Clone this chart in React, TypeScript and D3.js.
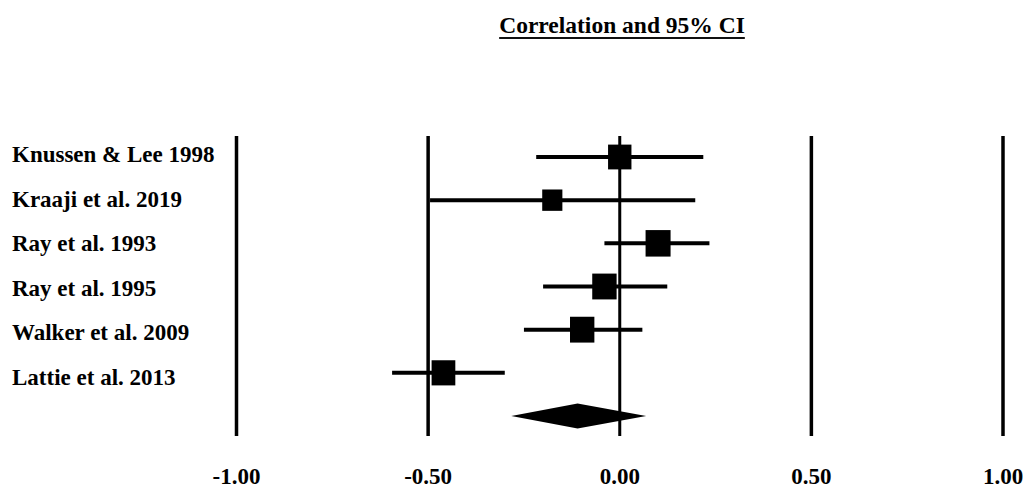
import React, { useEffect, useRef } from "react";
import * as d3 from "d3";

const studies = [
  "Knussen & Lee 1998",
  "Kraaji et al. 2019",
  "Ray et al. 1993",
  "Ray et al. 1995",
  "Walker et al. 2009",
  "Lattie et al. 2013",
];
const estimates = [0.0, -0.176, 0.1, -0.04, -0.098, -0.46];
const lower = [-0.218, -0.495, -0.04, -0.2, -0.25, -0.594];
const upper = [0.218, 0.197, 0.234, 0.124, 0.059, -0.3];
const weights = [17.5, 13, 20, 19, 19, 18];
const pooled = { est: -0.11, lo: -0.283, hi: 0.069 };
const ticks = [-1, -0.5, 0, 0.5, 1];
const tickLabels = ["-1.00", "-0.50", "0.00", "0.50", "1.00"];

const W = 1027;
const H = 492;

const App = () => {
  const svgRef = useRef<SVGSVGElement>(null);

  useEffect(() => {
    const svg = d3.select(svgRef.current);
    svg.selectAll("*").remove();
    const font = "Liberation Serif, Times New Roman, Times, serif";

    const x = d3.scaleLinear().domain([-1, 1]).range([236.5, 1003]);
    // markers and labels sit on slightly different bands in the original
    const yRow = d3.scalePoint<number>().domain(d3.range(studies.length + 1)).range([157, 416]);
    const yLabel = d3.scalePoint<number>().domain(d3.range(studies.length)).range([162, 385]);
    const size = d3.scaleSqrt().domain([0, 20]).range([0, 25]);

    svg.append("rect").attr("width", W).attr("height", H).attr("fill", "#fff");

    const txt = (sel: any) =>
      sel
        .style("font-family", font)
        .style("font-weight", "bold")
        .style("font-size", "23px")
        .attr("fill", "#000");

    // title
    const title = svg
      .append("text")
      .attr("x", 622)
      .attr("y", 33)
      .attr("text-anchor", "middle")
      .call(txt)
      .style("font-size", "23.5px")
      .text("Correlation and 95% CI");
    const tw = (title.node() as SVGTextElement).getComputedTextLength();
    svg
      .append("line")
      .attr("x1", 622 - tw / 2)
      .attr("x2", 622 + tw / 2)
      .attr("y1", 38)
      .attr("y2", 38)
      .attr("stroke", "#111")
      .attr("stroke-width", 2);

    // vertical reference lines
    svg
      .selectAll("line.ref")
      .data(ticks)
      .enter()
      .append("line")
      .attr("class", "ref")
      .attr("x1", (d) => x(d))
      .attr("x2", (d) => x(d))
      .attr("y1", 136)
      .attr("y2", 436)
      .attr("stroke", "#000")
      .attr("stroke-width", (d) => (d === 0 ? 3 : 3.5));

    // tick labels
    svg
      .selectAll("text.tick")
      .data(ticks)
      .enter()
      .append("text")
      .attr("class", "tick")
      .attr("x", (d) => x(d))
      .attr("y", 484)
      .attr("text-anchor", "middle")
      .call(txt)
      .text((d, i) => tickLabels[i]);

    // study labels
    svg
      .selectAll("text.study")
      .data(studies)
      .enter()
      .append("text")
      .attr("class", "study")
      .attr("x", 12)
      .attr("y", (d, i) => yLabel(i)!)
      .call(txt)
      .text((d) => d);

    // CI lines
    svg
      .selectAll("line.ci")
      .data(studies)
      .enter()
      .append("line")
      .attr("class", "ci")
      .attr("x1", (d, i) => x(lower[i]))
      .attr("x2", (d, i) => x(upper[i]))
      .attr("y1", (d, i) => yRow(i)!)
      .attr("y2", (d, i) => yRow(i)!)
      .attr("stroke", "#000")
      .attr("stroke-width", 4);

    // squares
    svg
      .selectAll("rect.pt")
      .data(studies)
      .enter()
      .append("rect")
      .attr("class", "pt")
      .attr("x", (d, i) => x(estimates[i]) - size(weights[i]) / 2)
      .attr("y", (d, i) => yRow(i)! - (size(weights[i]) * 1.06) / 2)
      .attr("width", (d, i) => size(weights[i]))
      .attr("height", (d, i) => size(weights[i]) * 1.06)
      .attr("fill", "#000");

    // pooled diamond
    const yd = yRow(studies.length)!;
    const dh = 12.5;
    svg
      .append("path")
      .attr(
        "d",
        d3.line()([
          [x(pooled.lo), yd],
          [x(pooled.est), yd - dh],
          [x(pooled.hi), yd],
          [x(pooled.est), yd + dh],
        ]) + "Z"
      )
      .attr("fill", "#000");
  }, []);

  return (
    <svg
      ref={svgRef}
      width={W}
      height={H}
      style={{ position: "absolute", left: 0, top: 0 }}
    ></svg>
  );
};

export default App;
